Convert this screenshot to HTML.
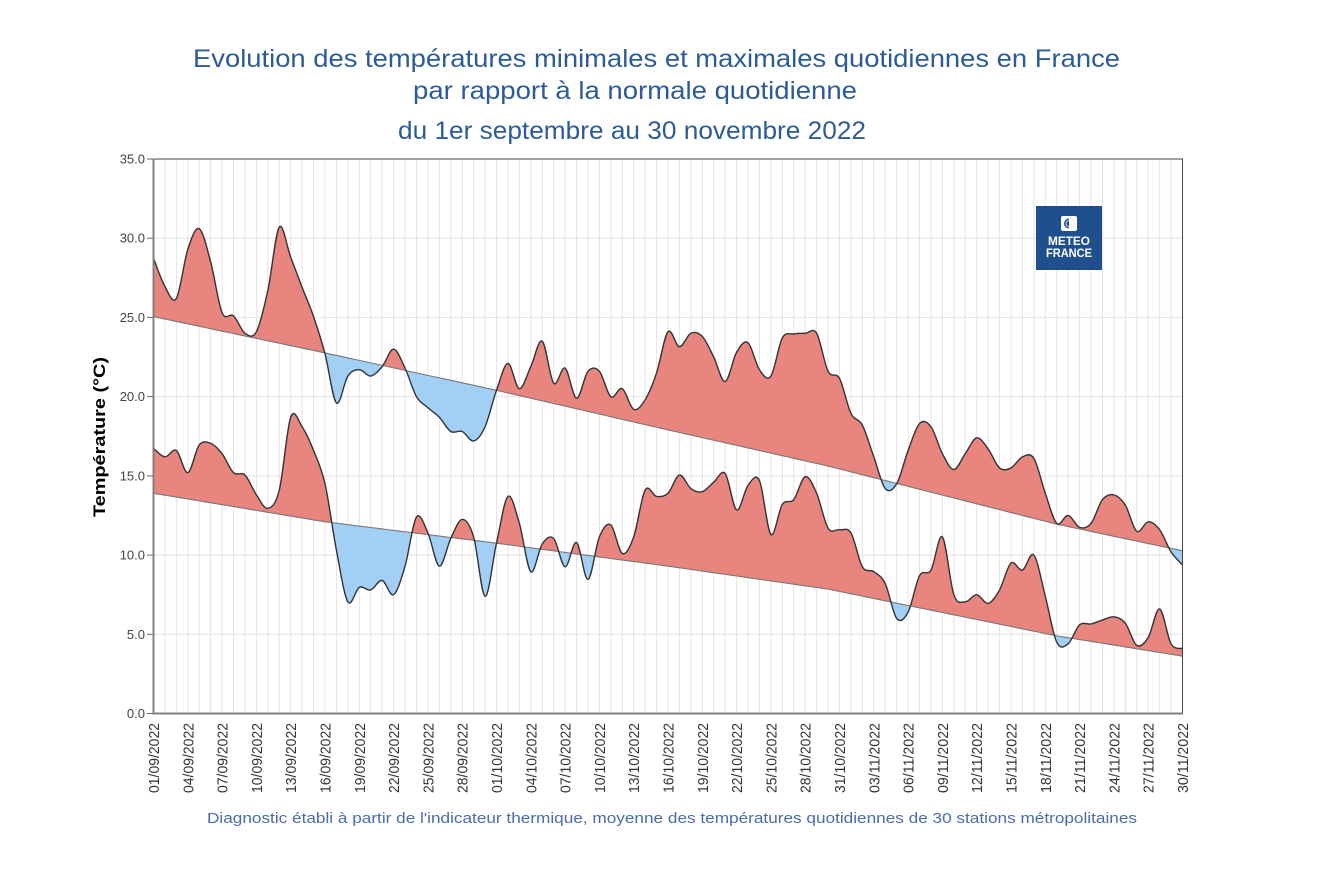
<!DOCTYPE html>
<html><head><meta charset="utf-8"><style>
html,body{margin:0;padding:0;background:#fff;}
svg{display:block;}
text{font-family:"Liberation Sans",Arial,sans-serif;}
</style></head><body>
<svg id="chart" width="1322" height="890" viewBox="0 0 1322 890" xmlns="http://www.w3.org/2000/svg">
<rect x="0" y="0" width="1322" height="890" fill="#fff"/>
<g fill="#2d5b96" font-size="25">
<text x="193" y="67" textLength="927" lengthAdjust="spacingAndGlyphs">Evolution des températures minimales et maximales quotidiennes en France</text>
<text x="413" y="99" textLength="444" lengthAdjust="spacingAndGlyphs">par rapport à la normale quotidienne</text>
<text x="398" y="139" textLength="468" lengthAdjust="spacingAndGlyphs">du 1er septembre au 30 novembre 2022</text>
</g>
<g id="grid"></g>
<g id="fills"></g>
<g id="lines"></g>
<!-- logo -->
<g>
<rect x="1036" y="206" width="66" height="64" fill="#1f4f8d"/>
<rect x="1061" y="216" width="16" height="15" rx="2" fill="#fff"/>
<circle cx="1069" cy="223.5" r="5" fill="#1f4f8d"/>
<path d="M1069 218.5 A5 5 0 0 1 1069 228.5 Z" fill="#fff"/>
<circle cx="1069" cy="223.5" r="3" fill="none" stroke="#fff" stroke-width="0.8"/>
<text x="1069" y="245" text-anchor="middle" font-size="11.5" font-weight="bold" fill="#fff" textLength="42" lengthAdjust="spacingAndGlyphs">METEO</text>
<text x="1069" y="257" text-anchor="middle" font-size="11.5" font-weight="bold" fill="#fff" textLength="46" lengthAdjust="spacingAndGlyphs">FRANCE</text>
</g>
<!-- frame -->
<rect x="153.5" y="159" width="1029" height="554.5" fill="none" stroke="#444" stroke-width="1"/>
<line x1="153.5" y1="158.5" x2="153.5" y2="714.5" stroke="#808080" stroke-width="2"/>
<line x1="152.5" y1="713.5" x2="1183" y2="713.5" stroke="#808080" stroke-width="2"/>
<g stroke="#666" stroke-width="1">
<line x1="147" y1="713.5" x2="153" y2="713.5"/>
<line x1="147" y1="634.3" x2="153" y2="634.3"/>
<line x1="147" y1="555.1" x2="153" y2="555.1"/>
<line x1="147" y1="475.9" x2="153" y2="475.9"/>
<line x1="147" y1="396.6" x2="153" y2="396.6"/>
<line x1="147" y1="317.4" x2="153" y2="317.4"/>
<line x1="147" y1="238.2" x2="153" y2="238.2"/>
<line x1="147" y1="159" x2="153" y2="159"/>
</g>
<g fill="#444" font-size="13" text-anchor="end">
<text x="145" y="718">0.0</text>
<text x="145" y="638.8">5.0</text>
<text x="145" y="559.6">10.0</text>
<text x="145" y="480.4">15.0</text>
<text x="145" y="401.1">20.0</text>
<text x="145" y="321.9">25.0</text>
<text x="145" y="242.7">30.0</text>
<text x="145" y="163.5">35.0</text>
</g>
<text transform="translate(105,437) rotate(-90)" text-anchor="middle" font-size="17" font-weight="bold" fill="#000" textLength="160" lengthAdjust="spacingAndGlyphs">Température (°C)</text>
<g fill="#333" font-size="15" text-anchor="end">
<text transform="translate(159,723) rotate(-90)" textLength="70" lengthAdjust="spacingAndGlyphs">01/09/2022</text>
<text transform="translate(193.3,723) rotate(-90)" textLength="70" lengthAdjust="spacingAndGlyphs">04/09/2022</text>
<text transform="translate(227.6,723) rotate(-90)" textLength="70" lengthAdjust="spacingAndGlyphs">07/09/2022</text>
<text transform="translate(261.9,723) rotate(-90)" textLength="70" lengthAdjust="spacingAndGlyphs">10/09/2022</text>
<text transform="translate(296.2,723) rotate(-90)" textLength="70" lengthAdjust="spacingAndGlyphs">13/09/2022</text>
<text transform="translate(330.5,723) rotate(-90)" textLength="70" lengthAdjust="spacingAndGlyphs">16/09/2022</text>
<text transform="translate(364.8,723) rotate(-90)" textLength="70" lengthAdjust="spacingAndGlyphs">19/09/2022</text>
<text transform="translate(399.1,723) rotate(-90)" textLength="70" lengthAdjust="spacingAndGlyphs">22/09/2022</text>
<text transform="translate(433.4,723) rotate(-90)" textLength="70" lengthAdjust="spacingAndGlyphs">25/09/2022</text>
<text transform="translate(467.7,723) rotate(-90)" textLength="70" lengthAdjust="spacingAndGlyphs">28/09/2022</text>
<text transform="translate(502,723) rotate(-90)" textLength="70" lengthAdjust="spacingAndGlyphs">01/10/2022</text>
<text transform="translate(536.3,723) rotate(-90)" textLength="70" lengthAdjust="spacingAndGlyphs">04/10/2022</text>
<text transform="translate(570.6,723) rotate(-90)" textLength="70" lengthAdjust="spacingAndGlyphs">07/10/2022</text>
<text transform="translate(604.9,723) rotate(-90)" textLength="70" lengthAdjust="spacingAndGlyphs">10/10/2022</text>
<text transform="translate(639.2,723) rotate(-90)" textLength="70" lengthAdjust="spacingAndGlyphs">13/10/2022</text>
<text transform="translate(673.5,723) rotate(-90)" textLength="70" lengthAdjust="spacingAndGlyphs">16/10/2022</text>
<text transform="translate(707.8,723) rotate(-90)" textLength="70" lengthAdjust="spacingAndGlyphs">19/10/2022</text>
<text transform="translate(742.1,723) rotate(-90)" textLength="70" lengthAdjust="spacingAndGlyphs">22/10/2022</text>
<text transform="translate(776.4,723) rotate(-90)" textLength="70" lengthAdjust="spacingAndGlyphs">25/10/2022</text>
<text transform="translate(810.7,723) rotate(-90)" textLength="70" lengthAdjust="spacingAndGlyphs">28/10/2022</text>
<text transform="translate(845,723) rotate(-90)" textLength="70" lengthAdjust="spacingAndGlyphs">31/10/2022</text>
<text transform="translate(879.3,723) rotate(-90)" textLength="70" lengthAdjust="spacingAndGlyphs">03/11/2022</text>
<text transform="translate(913.6,723) rotate(-90)" textLength="70" lengthAdjust="spacingAndGlyphs">06/11/2022</text>
<text transform="translate(947.9,723) rotate(-90)" textLength="70" lengthAdjust="spacingAndGlyphs">09/11/2022</text>
<text transform="translate(982.2,723) rotate(-90)" textLength="70" lengthAdjust="spacingAndGlyphs">12/11/2022</text>
<text transform="translate(1016.5,723) rotate(-90)" textLength="70" lengthAdjust="spacingAndGlyphs">15/11/2022</text>
<text transform="translate(1050.8,723) rotate(-90)" textLength="70" lengthAdjust="spacingAndGlyphs">18/11/2022</text>
<text transform="translate(1085.1,723) rotate(-90)" textLength="70" lengthAdjust="spacingAndGlyphs">21/11/2022</text>
<text transform="translate(1119.4,723) rotate(-90)" textLength="70" lengthAdjust="spacingAndGlyphs">24/11/2022</text>
<text transform="translate(1153.7,723) rotate(-90)" textLength="70" lengthAdjust="spacingAndGlyphs">27/11/2022</text>
<text transform="translate(1188,723) rotate(-90)" textLength="70" lengthAdjust="spacingAndGlyphs">30/11/2022</text>
</g>
<text x="207" y="823" font-size="15" fill="#4a6cae" textLength="930" lengthAdjust="spacingAndGlyphs">Diagnostic établi à partir de l'indicateur thermique, moyenne des températures quotidiennes de 30 stations métropolitaines</text>
</svg>
<script>
(function(){
var NS="http://www.w3.org/2000/svg";
var X0=153.5,X1=1182.5,TOP=159,BOT=713.5;
var XS=(X1-X0)/90, YS=(BOT-TOP)/35;
function px(d){return X0+d*XS;}
function py(v){return BOT-v*YS;}
var tmax=[28.74,26.95,26.2,29.3,30.6,28.5,25.3,25.1,24.0,24.1,26.7,30.7,28.8,26.9,25.05,22.7,19.6,21.3,21.7,21.3,21.9,23.0,21.8,20.0,19.3,18.7,17.8,17.8,17.2,18.1,20.4,22.1,20.5,21.9,23.5,20.85,21.8,19.9,21.6,21.6,20.0,20.5,19.2,19.8,21.5,24.1,23.15,24.0,23.8,22.5,20.95,22.8,23.4,21.7,21.3,23.7,23.96,24.0,24.0,21.6,21.15,18.95,18.2,16.2,14.2,14.5,16.6,18.3,18.1,16.4,15.4,16.4,17.4,16.7,15.5,15.5,16.2,16.1,13.9,12.0,12.5,11.75,12.0,13.5,13.8,13.15,11.5,12.1,11.6,10.2,9.37];
var tmin=[16.74,16.2,16.6,15.2,16.95,17.05,16.4,15.2,15.05,13.8,12.95,14.1,18.7,18.1,16.6,14.5,10.3,7.05,7.96,7.8,8.4,7.5,9.3,12.4,11.4,9.3,11.05,12.25,11.15,7.4,10.75,13.7,12.0,8.95,10.7,11.05,9.26,10.8,8.46,11.15,11.9,10.1,11.15,14.1,13.7,13.9,15.05,14.2,14.0,14.6,15.15,12.85,14.4,14.7,11.3,13.2,13.5,14.95,13.9,11.7,11.6,11.4,9.26,8.95,8.2,6.0,6.4,8.7,9.05,11.15,7.5,7.05,7.5,6.95,7.8,9.5,9.05,10.0,7.4,4.5,4.4,5.6,5.65,5.9,6.1,5.7,4.3,4.8,6.6,4.4,4.1];
var nmaxC=[[0,25.05],[15,22.76],[30,20.4],[45,17.9],[59,15.62],[79,11.95],[90,10.27]];
var nminC=[[0,13.9],[15,12.1],[30,10.75],[45,9.3],[59,7.85],[79,4.9],[90,3.62]];
function interp(c,d){for(var i=0;i<c.length-1;i++){if(d>=c[i][0]&&d<=c[i+1][0]){var t=(d-c[i][0])/(c[i+1][0]-c[i][0]);return c[i][1]+t*(c[i+1][1]-c[i][1]);}}return c[c.length-1][1];}
function el(tag,attrs,parent){var e=document.createElementNS(NS,tag);for(var k in attrs)e.setAttribute(k,attrs[k]);parent.appendChild(e);return e;}
var grid=document.getElementById('grid');
for(var d=0;d<=90;d++){var x=px(d).toFixed(2);el('line',{x1:x,y1:TOP,x2:x,y2:BOT,stroke:'#e4e4e4','stroke-width':1},grid);}
for(var v=5;v<35;v+=5){var y=py(v).toFixed(2);el('line',{x1:X0,y1:y,x2:X1,y2:y,stroke:'#e2e2e2','stroke-width':1},grid);}
function smooth(pts){
  var s='M'+pts[0][0].toFixed(2)+','+pts[0][1].toFixed(2);
  for(var i=0;i<pts.length-1;i++){
    var p0=pts[i-1]||pts[i],p1=pts[i],p2=pts[i+1],p3=pts[i+2]||pts[i+1];
    var c1x=p1[0]+(p2[0]-p0[0])/6,c1y=p1[1]+(p2[1]-p0[1])/6;
    var c2x=p2[0]-(p3[0]-p1[0])/6,c2y=p2[1]-(p3[1]-p1[1])/6;
    s+=' C'+c1x.toFixed(2)+','+c1y.toFixed(2)+' '+c2x.toFixed(2)+','+c2y.toFixed(2)+' '+p2[0].toFixed(2)+','+p2[1].toFixed(2);
  }
  return s;
}
var svg=document.getElementById('chart');
var defs=el('defs',{},svg);svg.insertBefore(defs,svg.firstChild);
var fills=document.getElementById('fills'),lines=document.getElementById('lines');
function series(data,nc,id){
  var pts=[],npts=[];
  for(var d=0;d<=90;d++){pts.push([px(d),py(data[d])]);}
  for(var d2=0;d2<=90;d2+=0.5){npts.push([px(d2),py(interp(nc,d2))]);}
  var curve=smooth(pts);
  var back='';for(var i=npts.length-1;i>=0;i--){back+=' L'+npts[i][0].toFixed(2)+','+npts[i][1].toFixed(2);}
  var fillD=curve+back+' Z';
  var nl='';for(var j=0;j<npts.length;j++){nl+=(j?' L':'M')+npts[j][0].toFixed(2)+','+npts[j][1].toFixed(2);}
  var above='M'+X0+','+(TOP-5)+' L'+nl.substring(1)+' L'+X1+','+(TOP-5)+' Z';
  var below='M'+X0+','+(BOT+5)+' L'+nl.substring(1)+' L'+X1+','+(BOT+5)+' Z';
  var ca=el('clipPath',{id:'ca'+id},defs);el('path',{d:above},ca);
  var cb=el('clipPath',{id:'cb'+id},defs);el('path',{d:below},cb);
  el('path',{d:fillD,fill:'#e9857f','clip-path':'url(#ca'+id+')'},fills);
  el('path',{d:fillD,fill:'#a2cff5','clip-path':'url(#cb'+id+')'},fills);
  el('path',{d:nl,fill:'none',stroke:'#777','stroke-width':1.1},lines);
  el('path',{d:curve,fill:'none',stroke:'#333','stroke-width':1.4,'stroke-linejoin':'round'},lines);
}
series(tmax,nmaxC,'x');
series(tmin,nminC,'n');
})();
</script>
</body></html>
